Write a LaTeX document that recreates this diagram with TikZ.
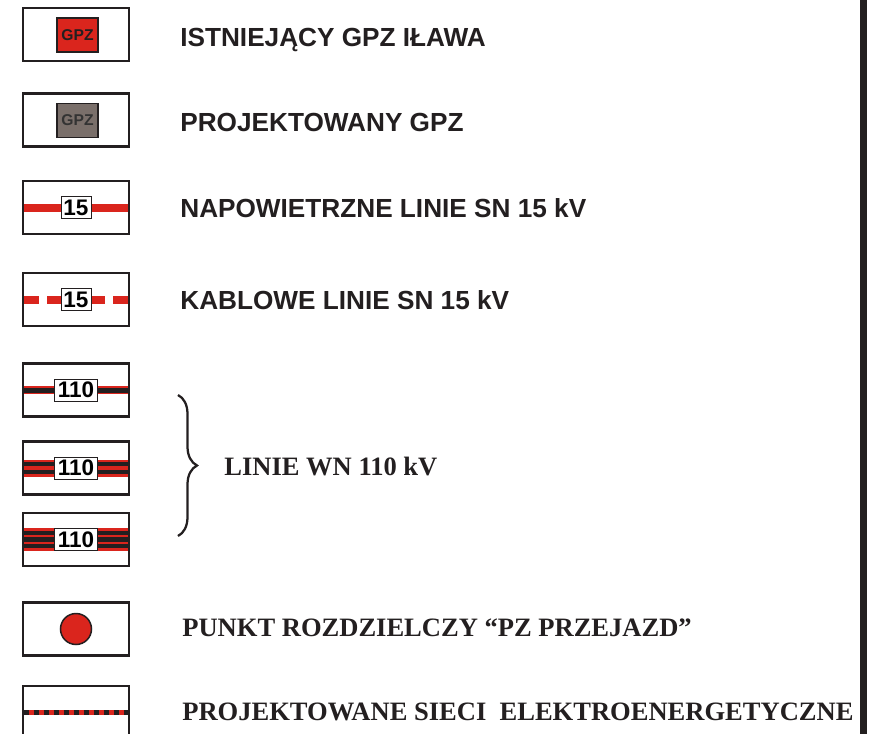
\documentclass[tikz,border=0pt]{standalone}
\usepackage{fontspec}
\setmainfont{Liberation Serif}
\setsansfont{Liberation Sans}
\usepackage{tikz}
\usetikzlibrary{decorations.pathreplacing}
\definecolor{gpzred}{RGB}{218,37,29}
\definecolor{gpzgray}{RGB}{122,111,106}
\definecolor{ink}{RGB}{35,31,32}
\tikzset{
	legbox/.style={draw=ink,line width=0.45mm,minimum width=21.2mm,minimum height=10.6mm,inner sep=0pt},
	gpz/.style={draw=ink,line width=0.25mm,minimum width=8.2mm,minimum height=6.8mm,inner sep=0pt,font=\sffamily\bfseries\fontsize{8.9}{9}\selectfont},
	numbox/.style={draw=ink,fill=white,line width=0.2mm,minimum height=4.4mm,inner sep=0pt,font=\sffamily\bfseries\fontsize{12.8}{13}\selectfont},
	sanstxt/.style={anchor=base west,inner sep=0pt,text=ink,font=\sffamily\bfseries\fontsize{14.9}{18}\selectfont},
	seriftxt/.style={anchor=base west,inner sep=0pt,text=ink,font=\rmfamily\bfseries\fontsize{15.1}{18}\selectfont},
	sn/.style={draw=gpzred,line width=1.6mm,shorten <=0.5mm},
	sncable/.style={sn,dash pattern=on 3mm off 1.6mm},
	band/.style={draw=gpzred,line width=#1,shorten <=0.4mm},
	wn/.style={draw=ink,line width=0.85mm,shorten <=0.4mm},
	pzdot/.style={circle,draw=ink,fill=gpzred,line width=0.3mm,minimum size=6.2mm,inner sep=0pt},
	netdots/.style={draw=ink,line width=1mm,dash pattern=on 1mm off 1mm,shorten <=0.4mm,shorten >=0.4mm},
	curly/.style={draw=ink,line width=0.45mm,decorate,decoration={brace,amplitude=3.8mm}},
}

\begin{document}
\begin{tikzpicture}[x=0.2mm,y=-0.2mm]
\useasboundingbox (0,0) rectangle (881,734);
\clip (0,0) rectangle (881,734);

% legend frames
\foreach \n/\y in {1/34.5,2/120,3/207.5,4/299.5,5/390,6/468,7/539.5,8/629,9/712.5}
  \node[legbox] (b\n) at (76,\y) {};

% substations
\node[gpz,fill=gpzred,text=ink] (g1) at (77.5,35) {GPZ};
\node[gpz,fill=gpzgray,text=black!80] (g2) at (77.5,120.5) {GPZ};

% voltage labels
\foreach \n/\t/\w in {3/15/6mm,4/15/6mm,5/110/8.6mm,6/110/8.6mm,7/110/8.6mm}
  \node[numbox,minimum width=\w] (n\n) at (b\n) {\t};

% 15 kV lines
\foreach \s in {west,east} {
  \draw[sn] (b3.\s) -- (n3.\s);
  \draw[sncable] (b4.\s) -- (n4.\s);
}

% 110 kV lines
\foreach \s in {west,east} {
  \draw[band=1.6mm] (b5.\s) -- (n5.\s);
  \draw[wn,line width=1mm] (b5.\s) -- (n5.\s);
  \draw[band=3.4mm] (b6.\s) -- (n6.\s);
  \draw[wn,double=gpzred,double distance=0.7mm] (b6.\s) -- (n6.\s);
  \draw[band=4.6mm] (b7.\s) -- (n7.\s);
  \draw[wn,double=gpzred,double distance=1.75mm] (b7.\s) -- (n7.\s);
  \draw[wn] (b7.\s) -- (n7.\s);
}
\draw[curly] (178,395) -- (178,536);

% switching point and planned network
\node[pzdot] (pz) at (b8) {};
\draw[band=1mm,shorten >=0.4mm] (b9.west) -- (b9.east);
\draw[netdots] (b9.west) -- (b9.east);

% descriptions
\node[sanstxt] (t1) at (180,46) {ISTNIEJĄCY GPZ IŁAWA};
\node[sanstxt] (t2) at (180,131.5) {PROJEKTOWANY GPZ};
\node[sanstxt] (t3) at (180,217) {NAPOWIETRZNE LINIE SN 15 kV};
\node[sanstxt] (t4) at (180,309.5) {KABLOWE LINIE SN 15 kV};
\node[seriftxt] (t5) at (224,475) {LINIE WN 110 kV};
\node[seriftxt] (t8) at (182,636) {PUNKT ROZDZIELCZY “PZ PRZEJAZD”};
\node[seriftxt] (t9) at (182,720) {PROJEKTOWANE SIECI\ \ ELEKTROENERGETYCZNE};

% sheet edge
\draw[ink,line width=1.4mm] (863.5,0) -- (863.5,734);
\end{tikzpicture}
\end{document}
